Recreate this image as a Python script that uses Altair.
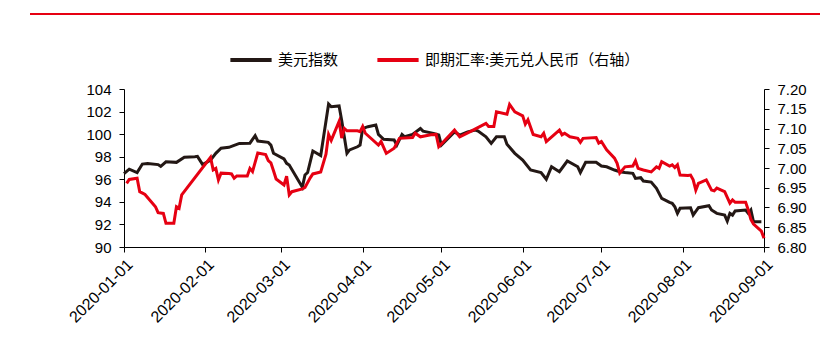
import altair as alt
import pandas as pd

# ---- data ----
dxy_dates = [
    "2020-01-01", "2020-01-03", "2020-01-06", "2020-01-08", "2020-01-10", "2020-01-14", "2020-01-15",
    "2020-01-17", "2020-01-21", "2020-01-24", "2020-01-28", "2020-01-29", "2020-01-31", "2020-02-03",
    "2020-02-05", "2020-02-07", "2020-02-10", "2020-02-12", "2020-02-14", "2020-02-18", "2020-02-20",
    "2020-02-21", "2020-02-25", "2020-02-26", "2020-02-27", "2020-03-02", "2020-03-03", "2020-03-04",
    "2020-03-09", "2020-03-10", "2020-03-11", "2020-03-13", "2020-03-16", "2020-03-19", "2020-03-20",
    "2020-03-23", "2020-03-24", "2020-03-26", "2020-03-27", "2020-03-30", "2020-03-31", "2020-04-01",
    "2020-04-03", "2020-04-06", "2020-04-07", "2020-04-09", "2020-04-13", "2020-04-14", "2020-04-16",
    "2020-04-17", "2020-04-20", "2020-04-23", "2020-04-24", "2020-04-28", "2020-04-30", "2020-05-01",
    "2020-05-06", "2020-05-08", "2020-05-11", "2020-05-14", "2020-05-15", "2020-05-18", "2020-05-20",
    "2020-05-22", "2020-05-25", "2020-05-26", "2020-05-29", "2020-06-01", "2020-06-04", "2020-06-08",
    "2020-06-10", "2020-06-12", "2020-06-15", "2020-06-18", "2020-06-22", "2020-06-23", "2020-06-25",
    "2020-06-29", "2020-07-01", "2020-07-03", "2020-07-06", "2020-07-08", "2020-07-10", "2020-07-13",
    "2020-07-14", "2020-07-16", "2020-07-17", "2020-07-20", "2020-07-22", "2020-07-24", "2020-07-27",
    "2020-07-28", "2020-07-29", "2020-07-30", "2020-07-31", "2020-08-04", "2020-08-05", "2020-08-07",
    "2020-08-11", "2020-08-12", "2020-08-14", "2020-08-17", "2020-08-18", "2020-08-19", "2020-08-20",
    "2020-08-21", "2020-08-25", "2020-08-26", "2020-08-27", "2020-08-28", "2020-08-31",
]
dxy_values = [
    96.5, 96.9, 96.6, 97.35, 97.4, 97.3, 97.15,
    97.55, 97.5, 97.95, 98.0, 98.03, 97.3, 97.7,
    98.3, 98.75, 98.83, 99.0, 99.18, 99.2, 99.86,
    99.39, 99.27, 99.03, 98.3, 97.8, 97.41, 97.26,
    95.3, 96.38, 96.6, 98.5, 98.1, 102.67, 102.43,
    102.5, 101.2, 98.3, 98.6, 98.88, 99.03, 100.5,
    100.66, 100.8, 99.98, 99.54, 99.48, 99.03, 99.98,
    99.77, 99.98, 100.5, 100.27, 100.07, 99.92, 99.03,
    100.2, 99.92, 100.2, 100.36, 100.27, 99.77, 99.18,
    99.77, 99.77, 99.1, 98.3, 97.7, 96.82, 96.6,
    96.0, 97.11, 96.67, 97.62, 97.11, 96.6, 97.5,
    97.5, 97.17, 97.11, 96.82, 96.67, 96.6, 96.53,
    96.08, 96.14, 95.85, 95.75, 95.2, 94.31, 93.96,
    93.87, 93.57, 92.98, 93.43, 93.48, 92.83, 93.48,
    93.66, 93.28, 92.98, 92.83, 92.3, 92.98, 92.83,
    93.19, 93.28, 92.98, 93.28, 92.24, 92.24,
]

cny_dates = [
    "2020-01-02", "2020-01-03", "2020-01-06", "2020-01-07", "2020-01-09", "2020-01-13", "2020-01-14",
    "2020-01-16", "2020-01-17", "2020-01-20", "2020-01-21", "2020-01-22", "2020-01-23", "2020-02-03",
    "2020-02-04", "2020-02-05", "2020-02-06", "2020-02-07", "2020-02-10", "2020-02-11", "2020-02-12",
    "2020-02-13", "2020-02-17", "2020-02-18", "2020-02-19", "2020-02-21", "2020-02-24", "2020-02-25",
    "2020-02-26", "2020-02-27", "2020-02-28", "2020-03-02", "2020-03-03", "2020-03-04", "2020-03-05",
    "2020-03-09", "2020-03-10", "2020-03-12", "2020-03-13", "2020-03-16", "2020-03-18", "2020-03-19",
    "2020-03-20", "2020-03-23", "2020-03-24", "2020-03-25", "2020-03-26", "2020-03-30", "2020-03-31",
    "2020-04-01", "2020-04-02", "2020-04-07", "2020-04-08", "2020-04-10", "2020-04-13", "2020-04-15",
    "2020-04-20", "2020-04-21", "2020-04-23", "2020-04-27", "2020-04-29", "2020-04-30", "2020-05-06",
    "2020-05-08", "2020-05-12", "2020-05-14", "2020-05-18", "2020-05-19", "2020-05-21", "2020-05-22",
    "2020-05-26", "2020-05-27", "2020-05-29", "2020-06-01", "2020-06-02", "2020-06-03", "2020-06-05",
    "2020-06-08", "2020-06-09", "2020-06-10", "2020-06-15", "2020-06-16", "2020-06-17", "2020-06-19",
    "2020-06-22", "2020-06-23", "2020-06-24", "2020-06-29", "2020-06-30", "2020-07-01", "2020-07-03",
    "2020-07-06", "2020-07-07", "2020-07-08", "2020-07-10", "2020-07-13", "2020-07-14", "2020-07-15",
    "2020-07-17", "2020-07-20", "2020-07-22", "2020-07-23", "2020-07-24", "2020-07-27", "2020-07-28",
    "2020-07-29", "2020-07-30", "2020-07-31", "2020-08-03", "2020-08-04", "2020-08-05", "2020-08-06",
    "2020-08-07", "2020-08-10", "2020-08-12", "2020-08-13", "2020-08-14", "2020-08-17", "2020-08-19",
    "2020-08-20", "2020-08-21", "2020-08-25", "2020-08-26", "2020-08-27", "2020-08-28", "2020-08-31",
    "2020-09-01",
]
cny_values = [
    6.961, 6.971, 6.974, 6.94, 6.933, 6.902, 6.887,
    6.885, 6.86, 6.86, 6.902, 6.898, 6.932, 7.027,
    6.995, 6.999, 6.97, 6.987, 6.986, 6.985, 6.974,
    6.98, 6.98, 6.999, 6.991, 7.038, 7.034, 7.019,
    7.013, 6.993, 6.972, 6.957, 6.979, 6.932, 6.94,
    6.947, 6.951, 6.975, 6.985, 6.99, 7.035, 7.085,
    7.07, 7.118, 7.076, 7.10, 7.094, 7.094, 7.092,
    7.105, 7.088, 7.058, 7.067, 7.037, 7.05, 7.075,
    7.077, 7.088, 7.079, 7.084, 7.085, 7.054, 7.096,
    7.079, 7.092, 7.099, 7.113, 7.105, 7.105, 7.142,
    7.136, 7.161, 7.142, 7.132, 7.111, 7.122, 7.085,
    7.079, 7.088, 7.067, 7.096, 7.084, 7.088, 7.079,
    7.075, 7.065, 7.075, 7.077, 7.063, 7.067, 7.046,
    7.025, 7.012, 6.987, 7.003, 7.005, 7.018, 6.999,
    6.995, 6.99, 7.003, 6.999, 7.016, 7.005, 7.008,
    7.001, 7.008, 6.982, 6.981, 6.982, 6.97, 6.944,
    6.961, 6.97, 6.944, 6.942, 6.949, 6.94, 6.911,
    6.919, 6.913, 6.913, 6.894, 6.87, 6.858, 6.84,
    6.822,
]

series_names = ["美元指数", "即期汇率:美元兑人民币（右轴）"]
series_colors = ["#231815", "#E60012"]
left_ticks = [90, 92, 94, 96, 98, 100, 102, 104]
right_ticks = [6.80, 6.85, 6.90, 6.95, 7.00, 7.05, 7.10, 7.15, 7.20]
month_ticks = [1, 2, 3, 4, 5, 6, 7, 8, 9]

dxy_df = pd.DataFrame({"date": dxy_dates, "value": dxy_values, "series": series_names[0]})
cny_df = pd.DataFrame({"date": cny_dates, "value": cny_values, "series": series_names[1]})

FONT = "Liberation Sans"
CJK = "Noto Sans CJK SC"

x_enc = alt.X(
    "date:T",
    scale=alt.Scale(
        type="utc",
        domain=[alt.DateTime(year=2020, month=1, date=1, utc=True),
                alt.DateTime(year=2020, month=9, date=1, utc=True)],
    ),
    axis=alt.Axis(
        values=[alt.DateTime(year=2020, month=m, date=1, utc=True) for m in month_ticks],
        format="%Y-%m-%d",
        labelAngle=-45,
        labelAlign="right",
        labelBaseline="top",
        labelFontSize=16,
        title=None,
        grid=False,
        tickSize=5,
        labelPadding=4,
    ),
)

color_enc = alt.Color(
    "series:N",
    scale=alt.Scale(domain=series_names, range=series_colors),
    legend=alt.Legend(
        title=None,
        orient="none",
        legendX=104,
        legendY=-52,
        direction="horizontal",
        symbolType="stroke",
        symbolStrokeWidth=4,
        symbolSize=1700,
        labelFont=CJK,
        labelFontSize=15,
        labelColor="#000000",
        labelLimit=0,
        columnPadding=30,
        labelOffset=4,
    ),
)

left = alt.Chart(dxy_df).mark_line(strokeWidth=3).encode(
    x=x_enc,
    y=alt.Y(
        "value:Q",
        scale=alt.Scale(domain=[90, 104], nice=False, zero=False),
        axis=alt.Axis(values=left_ticks, format="d", title=None, grid=False,
                      orient="left", tickSize=5, labelPadding=8),
    ),
    color=color_enc,
)

right = alt.Chart(cny_df).mark_line(strokeWidth=3).encode(
    x=x_enc,
    y=alt.Y(
        "value:Q",
        scale=alt.Scale(domain=[6.80, 7.20], nice=False, zero=False),
        axis=alt.Axis(values=right_ticks, format=".2f", title=None, grid=False,
                      orient="right", tickSize=5, labelPadding=8),
    ),
    color=color_enc,
)

top_rule = alt.Chart(pd.DataFrame({"k": [0]})).mark_rule(color="#E60012", strokeWidth=2).encode(
    x=alt.value(-94), x2=alt.value(696), y=alt.value(-75)
)

chart = alt.layer(top_rule, left, right).resolve_scale(y="independent").properties(
    width=640,
    height=158,
    autosize=alt.AutoSizeParams(type="none"),
    padding={"left": 124, "top": 89, "right": 76, "bottom": 110},
).configure_view(stroke=None).configure_axis(
    labelFont=FONT,
    labelFontSize=15,
    labelColor="#000000",
    domainColor="#000000",
    tickColor="#000000",
    domainWidth=1,
    tickWidth=1,
)

chart.save("out.html", embed_options={"renderer": "svg", "actions": False})
